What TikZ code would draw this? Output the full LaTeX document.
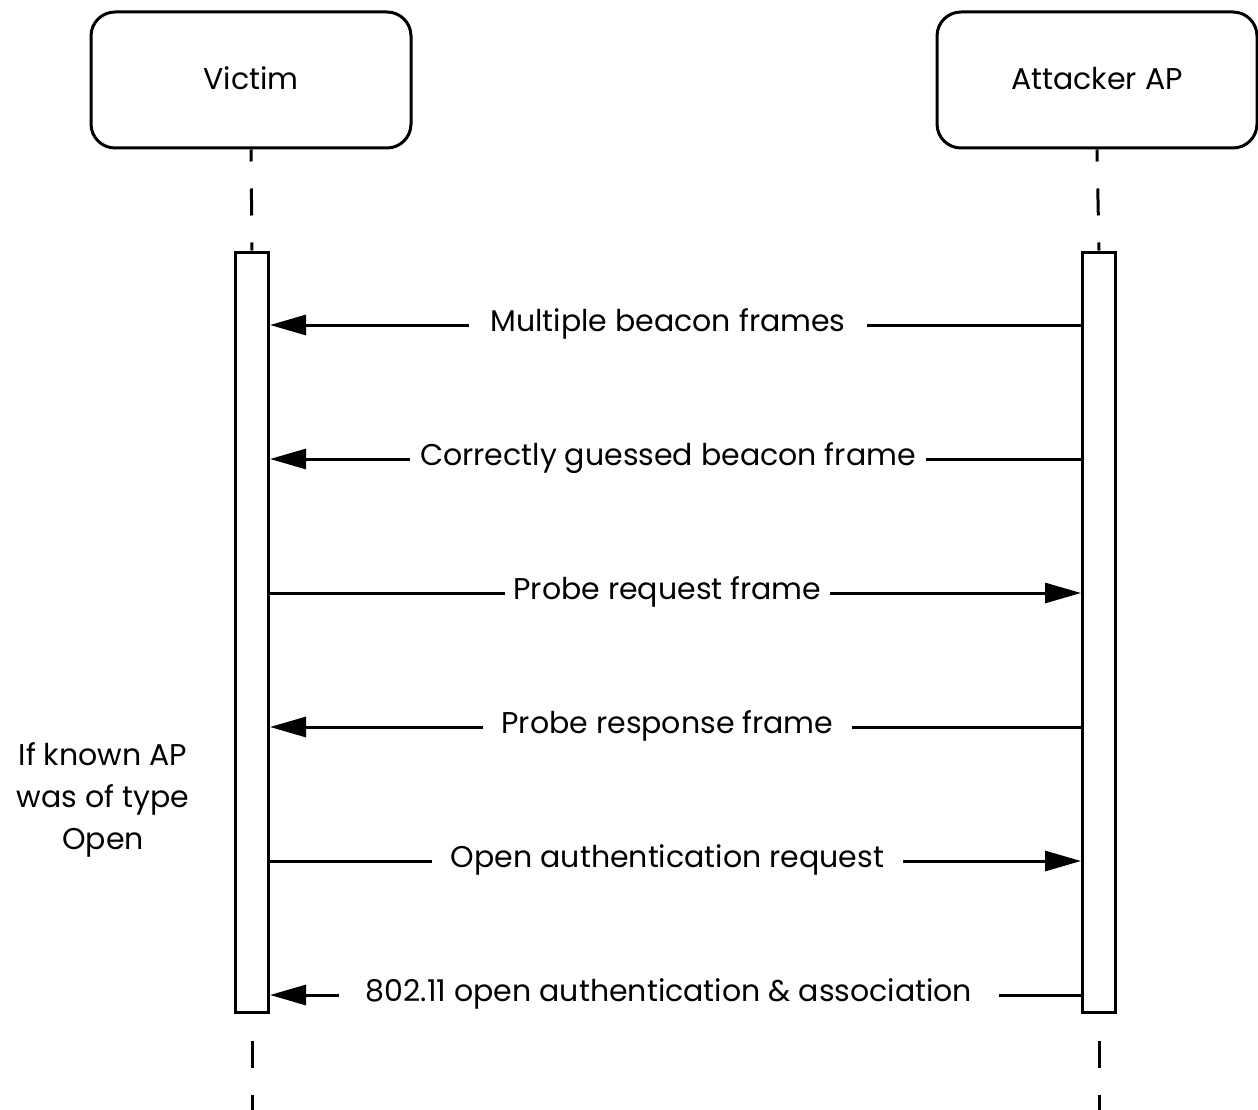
\documentclass[tikz,border=0pt]{standalone}
\usepackage{fontspec}
\setmainfont{Poppins}
\usetikzlibrary{arrows.meta,backgrounds}
\begin{document}
\begin{tikzpicture}[x=1pt,y=-1pt,line width=3pt,
  actor/.style={draw,line width=3pt,rounded corners=24pt,minimum width=320pt,minimum height=136pt,inner sep=0pt,font=\fontsize{30}{36}\selectfont},
  actbar/.style={draw,line width=3pt,fill=white,minimum width=33pt,minimum height=760pt,inner sep=0pt},
  life/.style={line width=3pt,dash pattern=on 27pt off 27pt},
  msg/.style={line width=3pt,-{Triangle[length=36pt,width=20pt]}},
  lbl/.style={fill=white,inner ysep=4pt,font=\fontsize{30}{36}\selectfont}]
\useasboundingbox (0,0) rectangle (1258,1110);
\node[actor] (victim) at (251,80) {\raisebox{3pt}{Victim}};
\node[actor] (attacker) at (1097,80) {\raisebox{3pt}{Attacker AP}};
\node[actbar] (va) at (252,632) {};
\node[actbar] (aa) at (1099,632) {};
\coordinate (vend) at (va.south |- 0,1110);
\coordinate (aend) at (aa.south |- 0,1110);
\draw[life,dash phase=15pt] (victim.south) -- (va.north);
\draw[life,dash phase=15pt] (attacker.south) -- (aa.north);
\draw[life,dash phase=27pt] (va.south) -- (vend);
\draw[life,dash phase=27pt] (aa.south) -- (aend);
\node[lbl,inner xsep=21.5pt] (m1) at (668,324) {Multiple beacon frames};
\node[lbl,inner xsep=10.5pt] (m2) at (668,458) {Correctly guessed beacon frame};
\node[lbl,inner xsep=9pt] (m3) at (667.5,592) {Probe request frame};
\node[lbl,inner xsep=19pt] (m4) at (667.5,726) {Probe response frame};
\node[lbl,inner xsep=19pt] (m5) at (667.5,860) {Open authentication request};
\node[lbl,inner xsep=26.5pt] (m6) at (669,994) {802.11 open authentication \& association};
\coordinate (y1) at (0,325);
\coordinate (y2) at (0,459);
\coordinate (y3) at (0,593);
\coordinate (y4) at (0,727);
\coordinate (y5) at (0,861);
\coordinate (y6) at (0,995);
\begin{scope}[on background layer]
\draw[msg] (aa.west |- y1) -- (va.east |- y1);
\draw[msg] (aa.west |- y2) -- (va.east |- y2);
\draw[msg] (va.east |- y3) -- (aa.west |- y3);
\draw[msg] (aa.west |- y4) -- (va.east |- y4);
\draw[msg] (va.east |- y5) -- (aa.west |- y5);
\draw[msg] (aa.west |- y6) -- (va.east |- y6);
\end{scope}
\node[align=center,font=\fontsize{30}{42}\selectfont] (cond) at (103,800) {If known AP\\was of type\\Open};
\end{tikzpicture}
\end{document}
